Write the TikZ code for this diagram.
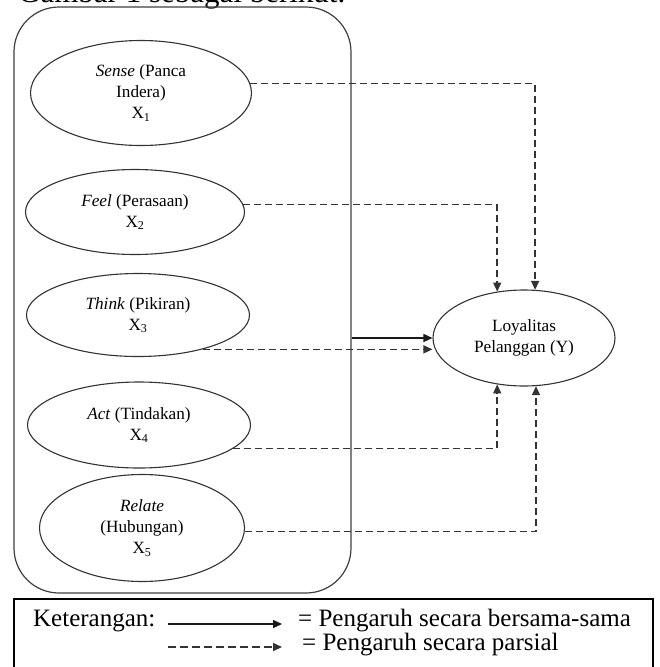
\documentclass[tikz,border=0pt]{standalone}
\usepackage{fontspec}
\setmainfont{Liberation Serif}
\usetikzlibrary{shapes.geometric,arrows.meta,calc}
\begin{document}
\begin{tikzpicture}[x=1pt,y=-1pt,
  ell/.style={ellipse,draw=black!80,line width=1.1pt,inner sep=0pt,align=center,
    font=\fontsize{17.2}{21}\selectfont},
  frame/.style={draw=black!75,line width=1.2pt,rounded corners=45pt,inner sep=0pt},
  dasharrow/.style={draw=black!80,line width=1.5pt,dash pattern=on 7pt off 4pt,
    -{Triangle[length=9pt,width=8pt]}},
  solidarrow/.style={draw=black!90,line width=1.4pt,-{Triangle[length=9pt,width=8pt]}},
  legtext/.style={font=\fontsize{25}{29}\selectfont,inner sep=0pt}]
\useasboundingbox (0,0) rectangle (660,667);
\fill[white] (0,0) rectangle (660,667);
\node[anchor=base west,font=\fontsize{31}{36}\selectfont,inner sep=0pt] (title) at (18,2) {Gambar 1 sebagai berikut.};
% frame
\node[frame,minimum width=337pt,minimum height=586pt] (frame) at (182.5,300) {};
% ellipses
\node[ell,minimum width=221pt,minimum height=105pt] (x1) at (141,93) {\textit{Sense} (Panca\\Indera)\\X\textsubscript{1}};
\node[ell,minimum width=219pt,minimum height=85pt] (x2) at (135,212) {\textit{Feel} (Perasaan)\\X\textsubscript{2}};
\node[ell,minimum width=223pt,minimum height=83pt] (x3) at (138,315) {\textit{Think} (Pikiran)\\X\textsubscript{3}};
\node[ell,minimum width=223pt,minimum height=86pt] (x4) at (139,425) {\textit{Act} (Tindakan)\\X\textsubscript{4}};
\node[ell,minimum width=205pt,minimum height=107pt] (x5) at (142,528) {\textit{Relate}\\(Hubungan)\\X\textsubscript{5}};
\node[ell,minimum width=182pt,minimum height=96pt] (yy) at (524,338) {Loyalitas\\Pelanggan (Y)};
% connectors
\draw[dasharrow] (x1.5) -| (yy.77);
\draw[dasharrow] (x2.4) -| (yy.120);
\draw[dasharrow] (x3.-28) -- (x3.-28 -| yy.west);
\draw[solidarrow] (frame.east |- yy.west) -- (yy.west);
\draw[dasharrow] (x4.-14) -| (yy.240);
\draw[dasharrow] (x5.-2) -| (yy.-76);
% legend
\node[draw=black,line width=1.2pt,minimum width=639pt,minimum height=71pt,inner sep=0pt] (legend) at (333.5,634.5) {};
\node[legtext,anchor=west] (ket) at (33,621) {Keterangan:};
\coordinate (la1) at (168,624);
\coordinate (la2) at (282,624);
\coordinate (lb1) at (168,647);
\coordinate (lb2) at (282,647);
\draw[solidarrow] (la1) -- (la2);
\draw[dasharrow,line width=2pt,dash pattern=on 8pt off 4pt] (lb1) -- (lb2);
\node[legtext,anchor=west] (l1) at (298,621) {= Pengaruh secara bersama-sama};
\node[legtext,anchor=west] (l2) at (302,645) {= Pengaruh secara parsial};
\end{tikzpicture}
\end{document}
